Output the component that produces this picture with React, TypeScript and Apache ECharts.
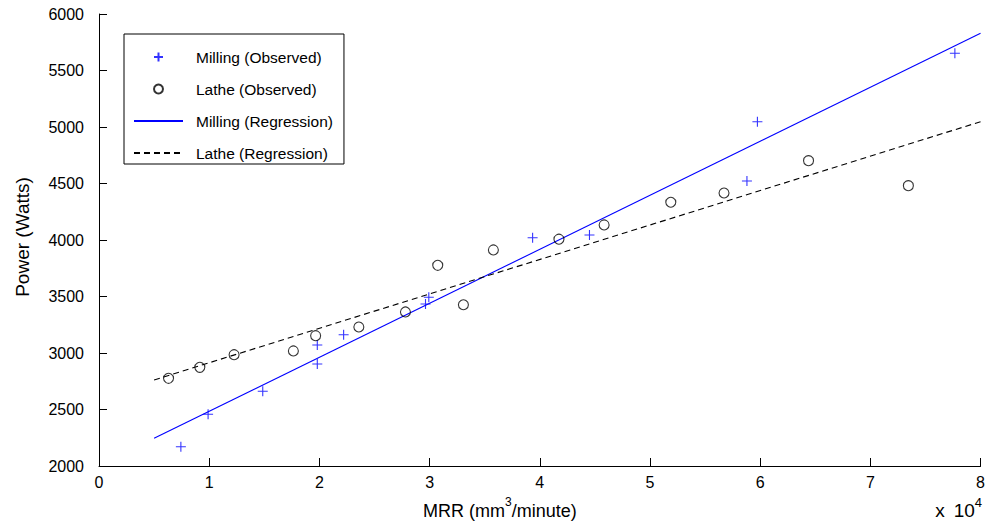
import React, { useEffect, useRef } from "react";
import * as echarts from "echarts";

const millingX = [7430, 9900, 14860, 19810, 19810, 22200, 29630, 29930, 39350, 44510, 58800, 59750, 77670];
const millingY = [2171, 2458, 2661, 3071, 2903, 3162, 3434, 3493, 4020, 4044, 4522, 5047, 5652];
const latheX = [6310, 9150, 12260, 17640, 19660, 23580, 27810, 30740, 33070, 35790, 41740, 45840, 51890, 56720, 64390, 73450];
const latheY = [2776, 2873, 2985, 3018, 3153, 3230, 3363, 3776, 3427, 3912, 4007, 4133, 4334, 4416, 4702, 4481];
const regX = [5000, 80000];
const millingRegY = [2245, 5829];
const latheRegY = [2761, 5047];
const seriesNames = ["Milling (Observed)", "Lathe (Observed)", "Milling (Regression)", "Lathe (Regression)"];

const FONT = '"Liberation Sans", Arial, Helvetica, sans-serif';

export default function App() {
  const ref = useRef<HTMLDivElement>(null);
  useEffect(() => {
    const chart = echarts.init(ref.current!, null, { renderer: "svg" });
    const zip = (xs: number[], ys: number[]) => xs.map((x, i) => [x, ys[i]]);
    chart.setOption({
      animation: false,
      backgroundColor: "#ffffff",
      grid: { left: 99, right: 7, top: 14, bottom: 62 },
      xAxis: {
        type: "value",
        min: 0,
        max: 80000,
        interval: 10000,
        axisLine: { show: true, lineStyle: { color: "#000", width: 1 } },
        axisTick: { show: true, inside: true, length: 8, lineStyle: { color: "#000" } },
        splitLine: { show: false },
        axisLabel: {
          color: "#000",
          fontSize: 16,
          fontFamily: FONT,
          margin: 8,
          formatter: (v: number) => String(v / 10000),
        },
      },
      yAxis: {
        type: "value",
        min: 2000,
        max: 6000,
        interval: 500,
        axisLine: { show: true, lineStyle: { color: "#000", width: 1 } },
        axisTick: { show: true, inside: true, length: 8, lineStyle: { color: "#000" } },
        splitLine: { show: false },
        axisLabel: {
          color: "#000",
          fontSize: 16,
          fontFamily: FONT,
          margin: 15,
          formatter: (v: number) => String(v),
        },
      },
      legend: {
        orient: "vertical",
        left: 124,
        top: 34,
        data: seriesNames,
        itemWidth: 49,
        itemHeight: 9,
        itemGap: 16,
        padding: [15, 11, 3, 9],
        borderColor: "#000",
        borderWidth: 1,
        backgroundColor: "#fff",
        selectedMode: false,
        textStyle: { color: "#000", fontSize: 15.5, fontFamily: FONT, lineHeight: 14, padding: [0, 0, 0, 8] },
      },
      series: [
        {
          name: seriesNames[0],
          type: "scatter",
          data: zip(millingX, millingY),
          symbol: "path://M0,5L10,5M5,0L5,10",
          symbolSize: 10,
          itemStyle: { color: "none", borderColor: "#0000ff", borderWidth: 1.1 },
          emphasis: { disabled: true },
          z: 3,
        },
        {
          name: seriesNames[1],
          type: "scatter",
          data: zip(latheX, latheY),
          symbol: "circle",
          symbolSize: 10,
          itemStyle: { color: "none", borderColor: "#000", borderWidth: 1.1 },
          emphasis: { disabled: true },
          z: 3,
        },
        {
          name: seriesNames[2],
          type: "line",
          data: zip(regX, millingRegY),
          symbol: "none",
          showSymbol: false,
          lineStyle: { color: "#0000ff", width: 1.1 },
          itemStyle: { color: "#0000ff", opacity: 0 },
          emphasis: { disabled: true },
          z: 2,
        },
        {
          name: seriesNames[3],
          type: "line",
          data: zip(regX, latheRegY),
          symbol: "none",
          showSymbol: false,
          lineStyle: { color: "#000", width: 1.1, type: [6, 4] },
          itemStyle: { color: "#000", opacity: 0 },
          emphasis: { disabled: true },
          z: 2,
        },
      ],
      graphic: [
        {
          type: "text",
          x: 22,
          y: 237,
          rotation: Math.PI / 2,
          style: {
            text: "Power (Watts)",
            font: `19px ${FONT}`,
            fill: "#000",
            align: "center",
            verticalAlign: "middle",
          },
        },
        {
          type: "text",
          x: 423,
          y: 508,
          style: {
            text: "{n|MRR (mm}{s|3}{n|/minute)}",
            align: "left",
            verticalAlign: "middle",
            rich: {
              n: { fontSize: 18, fontFamily: FONT, fill: "#000", verticalAlign: "bottom", lineHeight: 24 },
              s: { fontSize: 12, fontFamily: FONT, fill: "#000", verticalAlign: "top", lineHeight: 12 },
            },
          },
        },
        {
          type: "text",
          x: 982,
          y: 508,
          style: {
            text: "{x|x}{n|10}{s|4}",
            align: "right",
            verticalAlign: "middle",
            rich: {
              x: { fontSize: 19, fontFamily: FONT, fill: "#000", verticalAlign: "bottom", lineHeight: 24, padding: [0, 9, 0, 0] },
              n: { fontSize: 19, fontFamily: FONT, fill: "#000", verticalAlign: "bottom", lineHeight: 24 },
              s: { fontSize: 13, fontFamily: FONT, fill: "#000", verticalAlign: "top", lineHeight: 13 },
            },
          },
        },
      ],
    });
    return () => chart.dispose();
  }, []);
  return (
    <div
      ref={ref}
      style={{ position: "fixed", left: 0, top: 0, width: 988, height: 528, background: "#fff" }}
    />
  );
}
